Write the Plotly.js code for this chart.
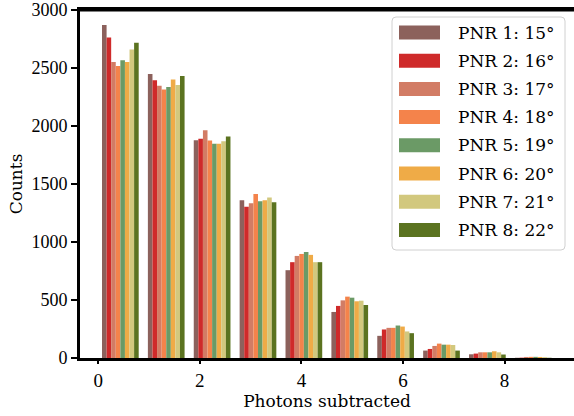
<!DOCTYPE html>
<html>
<head>
<meta charset="utf-8">
<script src="https://cdn.plot.ly/plotly-3.0.1.min.js"></script>
<style>html,body{margin:0;padding:0;background:#fff;}#chart{width:574px;height:416px;}</style>
</head>
<body>
<div id="chart"></div>
<script>
// ---- data ----
const photons = [0, 1, 2, 3, 4, 5, 6, 7, 8, 9];
const seriesNames = ["PNR 1: 15°", "PNR 2: 16°", "PNR 3: 17°", "PNR 4: 18°",
                     "PNR 5: 19°", "PNR 6: 20°", "PNR 7: 21°", "PNR 8: 22°"];
const pnr1 = [2871, 2449, 1877, 1360, 757, 397, 191, 64, 32, 2];
const pnr2 = [2763, 2394, 1891, 1303, 826, 449, 246, 78, 38, 3];
const pnr3 = [2551, 2346, 1963, 1334, 880, 497, 260, 104, 49, 9];
const pnr4 = [2517, 2314, 1874, 1414, 897, 529, 260, 124, 49, 10];
const pnr5 = [2566, 2337, 1846, 1351, 914, 520, 280, 115, 49, 10];
const pnr6 = [2551, 2400, 1846, 1360, 889, 489, 271, 115, 58, 9];
const pnr7 = [2660, 2354, 1869, 1383, 826, 494, 229, 112, 49, 7];
const pnr8 = [2717, 2431, 1909, 1343, 826, 457, 214, 64, 30, 2];
const seriesValues = [pnr1, pnr2, pnr3, pnr4, pnr5, pnr6, pnr7, pnr8];
const xTickLabels = [0, 2, 4, 6, 8];
const yTickLabels = [0, 500, 1000, 1500, 2000, 2500, 3000];

// ---- style ----
const colors = ["#8c615c", "#cf2a2a", "#d27c65", "#f4834b", "#6b9a66", "#efab47", "#d2c87e", "#5b7320"];
const FONT = "DejaVu Serif";
const TICKFONT = "Liberation Serif";
const W = 574, H = 416;
const M = {l: 80, r: 0, t: 10, b: 58};
const plotW = W - M.l - M.r, plotH = H - M.t - M.b;
const px2x = p => (p - M.l) / plotW;
const py2y = p => (H - M.b - p) / plotH;

const traces = seriesValues.map((vals, i) => ({
  type: "bar",
  x: photons,
  y: vals,
  name: seriesNames[i],
  marker: {color: colors[i], line: {width: 0}},
  xaxis: "x",
  yaxis: "y",
  showlegend: false
}));

// hand-drawn legend (matplotlib-style wide patches)
const shapes = [];
const annotations = [];
function roundRect(x0, y0, x1, y1, r) {
  const X = px2x, Y = py2y;
  return `M${X(x0 + r)},${Y(y0)} L${X(x1 - r)},${Y(y0)} Q${X(x1)},${Y(y0)} ${X(x1)},${Y(y0 + r)} ` +
         `L${X(x1)},${Y(y1 - r)} Q${X(x1)},${Y(y1)} ${X(x1 - r)},${Y(y1)} ` +
         `L${X(x0 + r)},${Y(y1)} Q${X(x0)},${Y(y1)} ${X(x0)},${Y(y1 - r)} ` +
         `L${X(x0)},${Y(y0 + r)} Q${X(x0)},${Y(y0)} ${X(x0 + r)},${Y(y0)} Z`;
}
// top spine
shapes.push({type: "line", xref: "paper", yref: "paper", x0: 0, x1: 1, y0: 1, y1: 1,
  line: {color: "#000", width: 3}, layer: "above"});
shapes.push({type: "path", xref: "paper", yref: "paper", path: roundRect(392, 17, 565, 250, 4),
  fillcolor: "rgba(255,255,255,0.85)", line: {color: "#d0d0d0", width: 1}, layer: "above"});
seriesNames.forEach((nm, i) => {
  const cy = 32.5 + i * 28.2;
  shapes.push({type: "rect", xref: "paper", yref: "paper",
    x0: px2x(399), x1: px2x(440), y0: py2y(cy + 7), y1: py2y(cy - 7),
    fillcolor: colors[i], line: {width: 0}, layer: "above"});
  annotations.push({xref: "paper", yref: "paper", x: px2x(456), y: py2y(cy),
    xanchor: "left", yanchor: "middle", showarrow: false, text: nm,
    font: {family: FONT, size: 17, color: "#000"}});
});

const layout = {
  width: W, height: H,
  margin: M,
  paper_bgcolor: "#fff", plot_bgcolor: "#fff",
  barmode: "group", bargap: 0.2, bargroupgap: 0,
  showlegend: false,
  font: {family: FONT, size: 15, color: "#000"},
  xaxis: {
    range: [-0.8795, 9.888],
    showticklabels: false, ticks: "", showgrid: false, zeroline: false,
    showline: true, linecolor: "#000", linewidth: 3, mirror: true
  },
  xaxis2: {
    overlaying: "x", anchor: "y", side: "bottom",
    range: [-0.3604, 9.368],
    tickmode: "array", tickvals: xTickLabels, ticktext: xTickLabels.map(String),
    ticks: "outside", ticklen: 5, tickwidth: 2, tickcolor: "#000",
    showgrid: false, zeroline: false, showline: false,
    tickfont: {family: TICKFONT, size: 19, color: "#000"},
    title: {text: "Photons subtracted", font: {family: FONT, size: 17, color: "#000"}, standoff: 1}
  },
  yaxis: {
    range: [0, 3000],
    tickmode: "array", tickvals: yTickLabels, ticktext: yTickLabels.map(String),
    ticks: "outside", ticklen: 6, tickwidth: 2, tickcolor: "#000",
    ticklabeloverflow: "allow",
    showgrid: false, zeroline: false,
    showline: true, linecolor: "#000", linewidth: 3, mirror: false,
    tickfont: {family: TICKFONT, size: 18, color: "#000"},
    title: {text: "Counts", font: {family: FONT, size: 17, color: "#000"}, standoff: 5}
  },
  shapes: shapes,
  annotations: annotations
};

traces.push({type: "scatter", x: [xTickLabels[0]], y: [0], xaxis: "x2", yaxis: "y",
  mode: "markers", marker: {opacity: 0}, showlegend: false, hoverinfo: "skip"});

Plotly.newPlot("chart", traces, layout, {staticPlot: true, displayModeBar: false});
</script>
</body>
</html>
